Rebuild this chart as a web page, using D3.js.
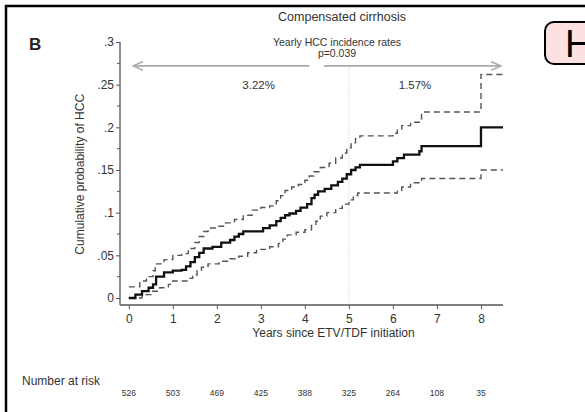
<!DOCTYPE html>
<html>
<head>
<meta charset="utf-8">
<script src="https://cdn.jsdelivr.net/npm/d3@7"></script>
<style>
  body { margin: 0; background: #fff; }
  svg { display: block; font-family: "Liberation Sans", Arial, sans-serif; }
</style>
</head>
<body>
<div id="chart"></div>
<script>
// Kaplan-Meier style cumulative incidence
var estTimes = [0, 0.15, 0.3, 0.45, 0.55, 0.62, 0.8, 1.0, 1.2, 1.3, 1.4, 1.5, 1.6, 1.7, 1.9, 2.1, 2.3, 2.4, 2.5, 2.6, 3.05, 3.2, 3.35, 3.45, 3.55, 3.65, 3.8, 3.9, 4.05, 4.15, 4.22, 4.3, 4.45, 4.6, 4.75, 4.85, 4.95, 5.05, 5.15, 5.25, 6.0, 6.1, 6.25, 6.6, 6.65, 8.0, 8.5];
var estValues = [0, 0.004, 0.008, 0.012, 0.016, 0.025, 0.03, 0.032, 0.033, 0.037, 0.042, 0.048, 0.053, 0.058, 0.06, 0.065, 0.068, 0.072, 0.075, 0.078, 0.082, 0.085, 0.09, 0.094, 0.097, 0.099, 0.102, 0.106, 0.11, 0.117, 0.121, 0.125, 0.128, 0.132, 0.136, 0.14, 0.145, 0.15, 0.153, 0.156, 0.16, 0.164, 0.168, 0.172, 0.178, 0.2, 0.2];

var upperTimes = [0, 0.25, 0.4, 0.55, 0.6, 0.8, 1.0, 1.2, 1.35, 1.5, 1.6, 1.7, 1.8, 2.0, 2.2, 2.4, 2.6, 2.8, 3.0, 3.2, 3.35, 3.45, 3.55, 3.7, 3.85, 4.0, 4.1, 4.2, 4.35, 4.55, 4.7, 4.85, 4.95, 5.05, 5.15, 5.25, 6.0, 6.1, 6.2, 6.4, 6.6, 6.65, 8.0, 8.5];
var upperValues = [0.013, 0.02, 0.025, 0.032, 0.04, 0.045, 0.05, 0.052, 0.058, 0.065, 0.072, 0.078, 0.082, 0.084, 0.088, 0.092, 0.097, 0.103, 0.106, 0.108, 0.114, 0.12, 0.126, 0.13, 0.133, 0.138, 0.143, 0.148, 0.153, 0.158, 0.164, 0.17, 0.176, 0.182, 0.187, 0.19, 0.193, 0.197, 0.202, 0.206, 0.21, 0.218, 0.262, 0.262];

var lowerTimes = [0, 0.3, 0.5, 0.7, 0.9, 1.0, 1.35, 1.45, 1.55, 1.65, 1.8, 2.05, 2.3, 2.5, 2.7, 2.9, 3.2, 3.4, 3.5, 3.6, 3.8, 4.0, 4.15, 4.25, 4.35, 4.5, 4.7, 4.85, 5.0, 5.1, 5.2, 6.0, 6.1, 6.2, 6.4, 6.65, 8.0, 8.5];
var lowerValues = [0, 0.004, 0.008, 0.012, 0.016, 0.02, 0.023, 0.027, 0.032, 0.036, 0.04, 0.043, 0.046, 0.049, 0.053, 0.057, 0.06, 0.064, 0.069, 0.074, 0.077, 0.08, 0.085, 0.09, 0.096, 0.1, 0.105, 0.11, 0.115, 0.12, 0.123, 0.123, 0.126, 0.13, 0.135, 0.14, 0.15, 0.15];

var xTicks = [0, 1, 2, 3, 4, 5, 6, 7, 8];
var yTicks = [0, 0.05, 0.1, 0.15, 0.2, 0.25, 0.3];
var yTickLabels = ["0", ".05", ".1", ".15", ".2", ".25", ".3"];
var yMinorTicks = [0.025, 0.075, 0.125, 0.175, 0.225, 0.275];
var atRisk = [526, 503, 469, 425, 388, 325, 264, 108, 35];
var periodRates = ["3.22%", "1.57%"];

var W = 585, H = 412;
var svg = d3.select("#chart").append("svg")
    .attr("width", W)
    .attr("height", H);

// outer panel frame (runs off the right and bottom)
svg.append("path")
    .attr("d", "M6," + (H + 5) + "V6H" + (W + 5))
    .attr("fill", "none")
    .attr("stroke", "#000")
    .attr("stroke-width", 2.5);

// neighbouring panel label, clipped by the window
svg.append("rect")
    .attr("x", 545).attr("y", 22)
    .attr("width", 70).attr("height", 42)
    .attr("rx", 9)
    .attr("fill", "#fde0e0")
    .attr("stroke", "#000")
    .attr("stroke-width", 2);
svg.append("text")
    .attr("x", 565).attr("y", 57)
    .attr("font-size", 38)
    .attr("fill", "#000")
    .text("H");

var x = d3.scaleLinear().domain([-0.2, 8.5]).range([120, 503]);
var y = d3.scaleLinear().domain([-0.0082, 0.3]).range([305, 42]);

svg.append("text")
    .attr("x", 29).attr("y", 50)
    .attr("font-size", 17)
    .attr("font-weight", "bold")
    .attr("fill", "#222")
    .text("B");

svg.append("text")
    .attr("x", 342).attr("y", 21)
    .attr("text-anchor", "middle")
    .attr("font-size", 12.5)
    .attr("fill", "#333")
    .text("Compensated cirrhosis");

svg.append("text")
    .attr("x", 337).attr("y", 46)
    .attr("text-anchor", "middle")
    .attr("font-size", 10.5)
    .attr("fill", "#333")
    .text("Yearly HCC incidence rates");
svg.append("text")
    .attr("x", 337).attr("y", 57)
    .attr("text-anchor", "middle")
    .attr("font-size", 10.5)
    .attr("fill", "#333")
    .text("p=0.039");

// period arrows
var defs = svg.append("defs");
defs.append("marker")
    .attr("id", "ah")
    .attr("viewBox", "0 0 10 10")
    .attr("refX", 9).attr("refY", 5)
    .attr("markerWidth", 7).attr("markerHeight", 7)
    .attr("orient", "auto-start-reverse")
    .append("path")
    .attr("d", "M0,1L9,5L0,9")
    .attr("fill", "none")
    .attr("stroke", "#aaa")
    .attr("stroke-width", 1.4);

var arrowY = y(0.272);
svg.append("line")
    .attr("x1", x(0.1)).attr("x2", x(4.1))
    .attr("y1", arrowY).attr("y2", arrowY)
    .attr("stroke", "#aaa").attr("stroke-width", 1.6)
    .attr("marker-start", "url(#ah)");
svg.append("line")
    .attr("x1", x(4.43)).attr("x2", x(8.45))
    .attr("y1", arrowY).attr("y2", arrowY)
    .attr("stroke", "#aaa").attr("stroke-width", 1.6)
    .attr("marker-end", "url(#ah)");

svg.selectAll("text.rate")
    .data(periodRates)
    .enter()
    .append("text")
    .attr("class", "rate")
    .attr("x", function (d, i) { return x(i == 0 ? 2.95 : 6.5); })
    .attr("y", y(0.25) + 4)
    .attr("text-anchor", "middle")
    .attr("font-size", 11.5)
    .attr("fill", "#333")
    .text(function (d) { return d; });

// dotted split at year 5
svg.append("line")
    .attr("x1", x(5)).attr("x2", x(5))
    .attr("y1", y(0.27)).attr("y2", y(-0.0082))
    .attr("stroke", "#ccc")
    .attr("stroke-width", 1)
    .attr("stroke-dasharray", "1,1.5");

// axes
var yAxis = d3.axisLeft(y)
    .tickValues(yTicks)
    .tickSize(4)
    .tickFormat(function (d, i) { return yTickLabels[i]; });
var gy = svg.append("g")
    .attr("transform", "translate(120,0)")
    .call(yAxis);
gy.select(".domain").attr("d", "M0," + y(0.3) + "V" + y(-0.0082));

svg.append("g")
    .selectAll("line")
    .data(yMinorTicks)
    .enter()
    .append("line")
    .attr("x1", 117).attr("x2", 120)
    .attr("y1", function (d) { return y(d); })
    .attr("y2", function (d) { return y(d); })
    .attr("stroke", "#555");

var xAxis = d3.axisBottom(x)
    .tickValues(xTicks)
    .tickSize(4)
    .tickFormat(d3.format("d"));
var gx = svg.append("g")
    .attr("transform", "translate(0,305)")
    .call(xAxis);
gx.select(".domain").attr("d", "M120,0H503");

[gx, gy].forEach(function (g) {
    g.select(".domain").attr("stroke", "#555").attr("stroke-width", 1.3);
    g.selectAll(".tick line").attr("stroke", "#555");
    g.selectAll(".tick text")
        .attr("font-family", "Liberation Sans, Arial, sans-serif")
        .attr("font-size", 12)
        .attr("fill", "#333");
});
gy.selectAll(".tick text").attr("x", -6);
gx.selectAll(".tick text").attr("y", 9);

svg.append("text")
    .attr("transform", "translate(84," + y(0.145) + ") rotate(-90)")
    .attr("text-anchor", "middle")
    .attr("font-size", 12)
    .attr("fill", "#333")
    .text("Cumulative probability of HCC");

svg.append("text")
    .attr("x", x(4.65)).attr("y", 337)
    .attr("text-anchor", "middle")
    .attr("font-size", 12)
    .attr("fill", "#333")
    .text("Years since ETV/TDF initiation");

// step curves
var line = d3.line()
    .x(function (d) { return x(d[0]); })
    .y(function (d) { return y(d[1]); })
    .curve(d3.curveStepAfter);

function pairs(t, v) { return t.map(function (d, i) { return [d, v[i]]; }); }

svg.append("path")
    .datum(pairs(upperTimes, upperValues))
    .attr("d", line)
    .attr("fill", "none")
    .attr("stroke", "#555")
    .attr("stroke-width", 1.4)
    .attr("stroke-dasharray", "6,4");
svg.append("path")
    .datum(pairs(lowerTimes, lowerValues))
    .attr("d", line)
    .attr("fill", "none")
    .attr("stroke", "#555")
    .attr("stroke-width", 1.4)
    .attr("stroke-dasharray", "6,4");
svg.append("path")
    .datum(pairs(estTimes, estValues))
    .attr("d", line)
    .attr("fill", "none")
    .attr("stroke", "#111")
    .attr("stroke-width", 2.3);

// number at risk table
svg.append("text")
    .attr("x", 22).attr("y", 385)
    .attr("font-size", 12)
    .attr("fill", "#333")
    .text("Number at risk");
svg.selectAll("text.risk")
    .data(atRisk)
    .enter()
    .append("text")
    .attr("class", "risk")
    .attr("x", function (d, i) { return x(xTicks[i]); })
    .attr("y", 396)
    .attr("text-anchor", "middle")
    .attr("font-size", 8.5)
    .attr("fill", "#333")
    .text(function (d) { return d; });
</script>
</body>
</html>
